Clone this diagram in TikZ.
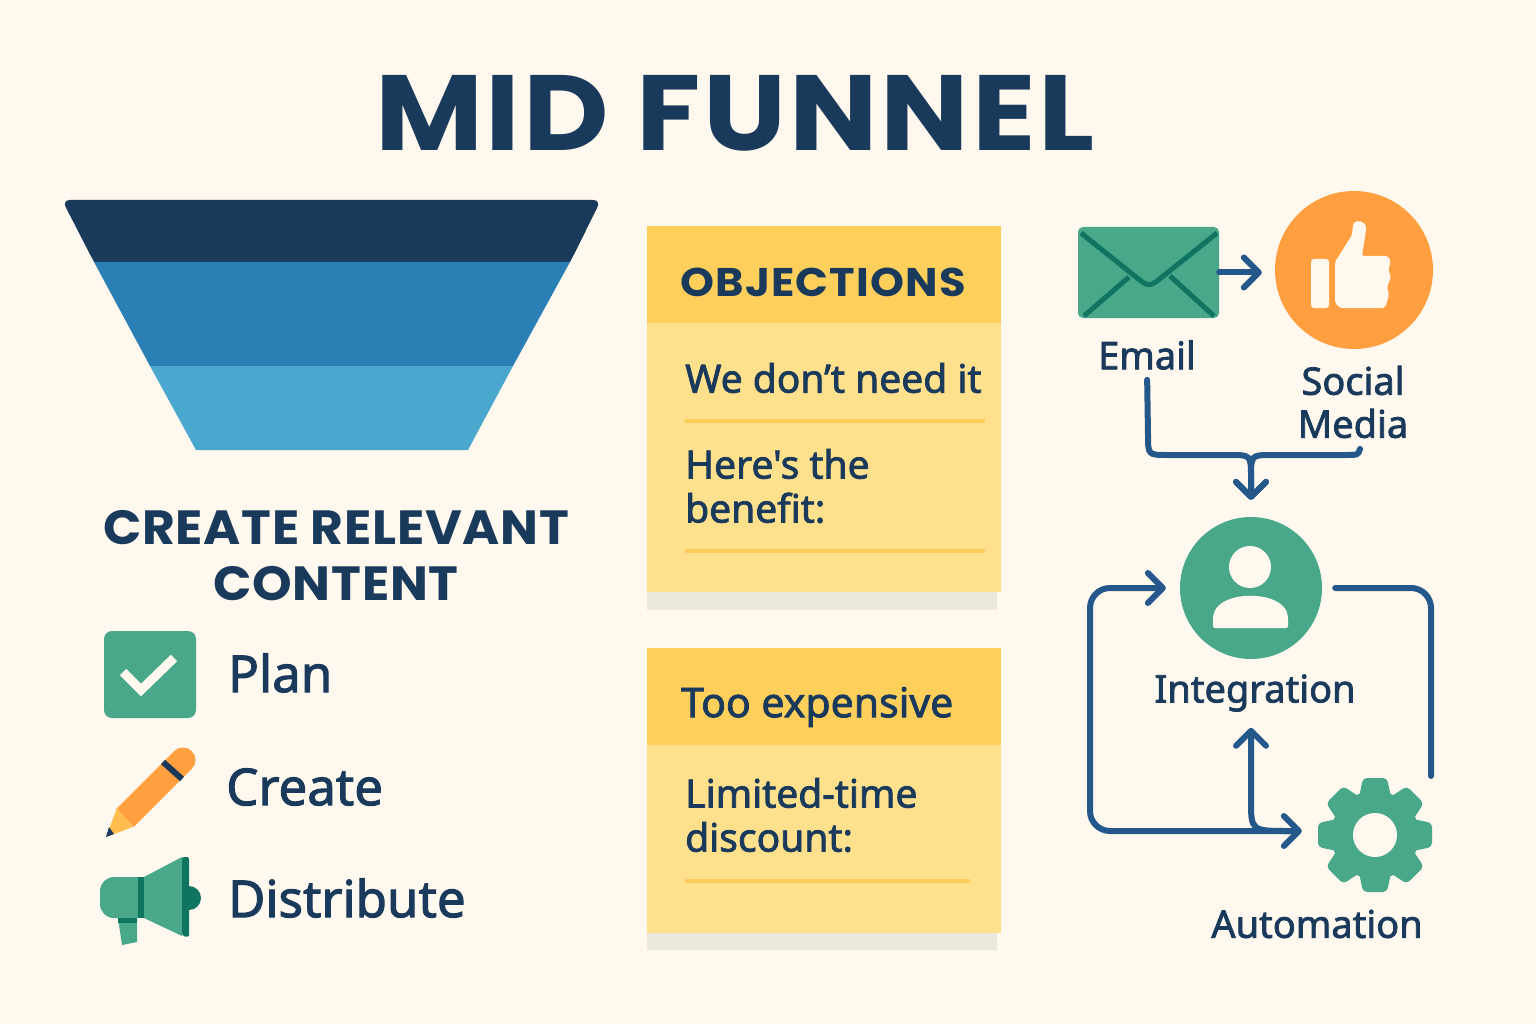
\documentclass[tikz,border=0pt]{standalone}
\usepackage{fontspec}
\usetikzlibrary{arrows.meta}
\setmainfont{Noto Sans}
\newfontfamily\titlefont{Poppins}[FakeStretch=1.1,LetterSpace=2.6]
\newfontfamily\headfont{Poppins}[FakeStretch=1.05,LetterSpace=1.5]
\newfontfamily\objfont{Poppins}[FakeStretch=1.08,LetterSpace=3]
\newfontfamily\labelfont{Noto Sans}[FakeBold=2]
\definecolor{paper}{HTML}{FEF8EF}
\definecolor{navy}{HTML}{1A3A5C}
\definecolor{funnelmid}{HTML}{2A7FB5}
\definecolor{funnellow}{HTML}{4AA8CE}
\definecolor{leaf}{HTML}{4AA88A}
\definecolor{darkleaf}{HTML}{0F7560}
\definecolor{peach}{HTML}{FF9F40}
\definecolor{pencilwood}{HTML}{FFBE4D}
\definecolor{stickybody}{HTML}{FFE08C}
\definecolor{stickyhead}{HTML}{FFCF5C}
\definecolor{stickyline}{HTML}{FFCB5A}
\definecolor{stickyshade}{HTML}{ECE8DD}
\definecolor{flow}{HTML}{25588A}
\tikzset{
  flowline/.style={draw=flow,line width=6pt,line cap=round},
  flowtip/.style={-{Straight Barb[length=15pt,width=30pt,round]}},
  bodytext/.style={font=\labelfont\fontsize{39}{44}\selectfont,text=navy,align=left,inner sep=0pt},
  listtext/.style={font=\labelfont\fontsize{51}{51}\selectfont,text=navy,inner sep=0pt},
  labeltext/.style={font=\labelfont\fontsize{38}{43}\selectfont,text=navy,align=center,inner sep=0pt},
  headtext/.style={font=\headfont\bfseries\fontsize{48}{56}\selectfont,text=navy,align=center,inner sep=0pt},
  ruleline/.style={draw=stickyline,line width=4pt},
}
\begin{document}
\begin{tikzpicture}[x=1pt,y=-1pt]
  \fill[paper] (0,0) rectangle (1536,1024);
  \node[font=\titlefont\bfseries\fontsize{107}{107}\selectfont,text=navy,inner sep=0pt] (title) at (735,113) {MID FUNNEL};

  % funnel
  \fill[navy,rounded corners=8pt] (62,200) -- (601,200) -- (570,262) -- (94,262) -- cycle;
  \fill[navy] (78,230) -- (586,230) -- (570,262) -- (94,262) -- cycle;
  \fill[funnelmid] (94,262) -- (570,262) -- (513,366) -- (150,366) -- cycle;
  \fill[funnellow] (150,366) -- (513,366) -- (468,450) -- (196,450) -- cycle;

  \node[headtext] (createhead) at (336,556) {CREATE RELEVANT\\CONTENT};

  % check icon
  \fill[leaf,rounded corners=8pt] (104,631) rectangle (196,718);
  \draw[paper,line width=9pt] (123,672) -- (141,690) -- (174,658);
  \node[listtext,right] (plan) at (228,673) {Plan};

  % pencil icon
  \draw[peach,line width=25pt] (125,818) -- (172,771);
  \draw[peach,line width=25pt,line cap=round] (172,771) -- (183,760);
  \fill[pencilwood] (117,808) -- (133,827) -- (106,837) -- cycle;
  \fill[navy] (109,827) -- (114,834) -- (106,837) -- cycle;
  \draw[navy,line width=6pt] (163,762) -- (182,779);
  \node[listtext,right] (create) at (226,787) {Create};

  % megaphone icon
  \fill[leaf,rounded corners=14pt] (140,877) -- (100,877) -- (100,918) -- (140,918) -- cycle;
  \fill[leaf] (120,877) rectangle (140,918);
  \fill[leaf] (118,918) -- (137,918) -- (137,942) -- (122,945) -- cycle;
  \fill[darkleaf] (118,918) rectangle (137,923);
  \fill[darkleaf] (138,877) rectangle (144,918);
  \fill[leaf] (144,877) -- (182,857) -- (182,936) -- (144,918) -- cycle;
  \fill[darkleaf,rounded corners=2pt] (182,857) -- (189,857) -- (189,937) -- (182,936) -- cycle;
  \fill[darkleaf] (189,886) arc[start angle=90,end angle=-90,radius=12pt];
  \node[listtext,right] (distribute) at (228,898) {Distribute};

  % sticky notes
  \fill[stickyshade] (647,592) rectangle (997,610);
  \fill[stickybody] (647,226) rectangle (1001,592);
  \fill[stickyhead] (647,226) rectangle (1001,323);
  \node[font=\objfont\bfseries\fontsize{40}{40}\selectfont,text=navy,right,inner sep=0pt] (objections) at (680,282) {OBJECTIONS};
  \node[bodytext,right] (needit) at (685,378) {We don’t need it};
  \draw[ruleline] (685,421) -- (985,421);
  \node[bodytext,right] (benefit) at (685,486) {Here's the\\benefit:};
  \draw[ruleline] (685,551) -- (985,551);

  \fill[stickyshade] (647,933) rectangle (997,950);
  \fill[stickybody] (647,648) rectangle (1001,933);
  \fill[stickyhead] (647,648) rectangle (1001,745);
  \node[bodytext,right,font=\labelfont\fontsize{41}{44}\selectfont] (expensive) at (681,707) {Too expensive};
  \node[bodytext,right] (discount) at (685,815) {Limited-time\\discount:};
  \draw[ruleline] (685,881) -- (970,881);

  % email and social
  \node[fill=leaf,rounded corners=5pt,minimum width=141pt,minimum height=91pt,inner sep=0pt] (emailicon) at (1148.5,272.5) {};
  \draw[darkleaf,line width=5pt,line join=round] (1081,233) -- (1141,281) .. controls (1148,286) and (1150,286) .. (1157,281) -- (1217,233);
  \draw[darkleaf,line width=5pt] (1084,316) -- (1129,277) (1214,316) -- (1170,276);
  \node[circle,fill=peach,minimum size=158pt,inner sep=0pt] (socialicon) at (1354,270) {};
  \fill[paper,rounded corners=3pt] (1311,259) rectangle (1329,308);
  \fill[paper,rounded corners=2pt] (1335,262) -- (1352,235) -- (1353,225) .. controls (1355,220) and (1366,220) .. (1366,230) -- (1362,256) -- (1388,256) -- (1391,262) -- (1388,269) -- (1391,277) -- (1387,287) -- (1389,295) -- (1385,308) -- (1340,308) -- (1335,303) -- cycle;
  \node[labeltext] (emaillabel) at (1147,355) {Email};
  \node[labeltext] (medialabel) at (1353,402) {Social\\Media};
  \draw[flowline,flowtip,shorten >=13pt] (emailicon.east) -- (emailicon.east -| socialicon.west);

  % integration and automation
  \node[circle,fill=leaf,minimum size=142pt,inner sep=0pt] (personicon) at (1251,588) {};
  \fill[paper] (1250,567) circle[radius=21pt];
  \fill[paper,rounded corners=2pt] (1213,628) -- (1213,618) .. controls (1216,589) and (1285,589) .. (1288,618) -- (1288,628) -- cycle;
  \node[labeltext] (integrationlabel) at (1255,693) {Integration};

  \node[circle,minimum size=88pt,inner sep=0pt,fill=leaf] (gearicon) at (1375,835) {};
  \foreach \toothangle in {0,45,...,315}
    \fill[leaf,rounded corners=4pt,rotate around={\toothangle:(gearicon.center)}] (1363,778) -- (1387,778) -- (1392,802) -- (1358,802) -- cycle;
  \fill[paper] (gearicon.center) circle[radius=22pt];
  \node[labeltext] (automationlabel) at (1317,924) {Automation};

  % connectors
  \coordinate (mediaend) at (1360,449);
  \coordinate (loopjoin) at (1290,831);
  \coordinate (gearend) at (1431,776);
  \draw[flowline,flowtip,shorten <=10pt,shorten >=17pt] (emaillabel.south) -- (1148,435) .. controls (1148,455) .. (1168,455) -- (1230,455) .. controls (1251,455) .. (1251,478) -- (personicon.north);
  \draw[flowline,flowtip,shorten >=17pt] (mediaend) .. controls (1358,455) .. (1345,455) -- (1272,455) .. controls (1251,455) .. (1251,478) -- (personicon.north);
  \draw[flowline,rounded corners=20pt,{Straight Barb[length=15pt,width=30pt,round]}-{Straight Barb[length=15pt,width=30pt,round]},shorten <=14pt,shorten >=29pt] (personicon.west) -| (1090,831) -- (gearicon.west |- loopjoin);
  \draw[flowline,rounded corners=20pt,shorten <=13pt] (personicon.east) -| (gearend);
  \draw[flowline,flowtip,shorten >=16pt] (loopjoin) .. controls (1251,831) .. (1251,800) -- (personicon.south |- integrationlabel.south);
\end{tikzpicture}
\end{document}
